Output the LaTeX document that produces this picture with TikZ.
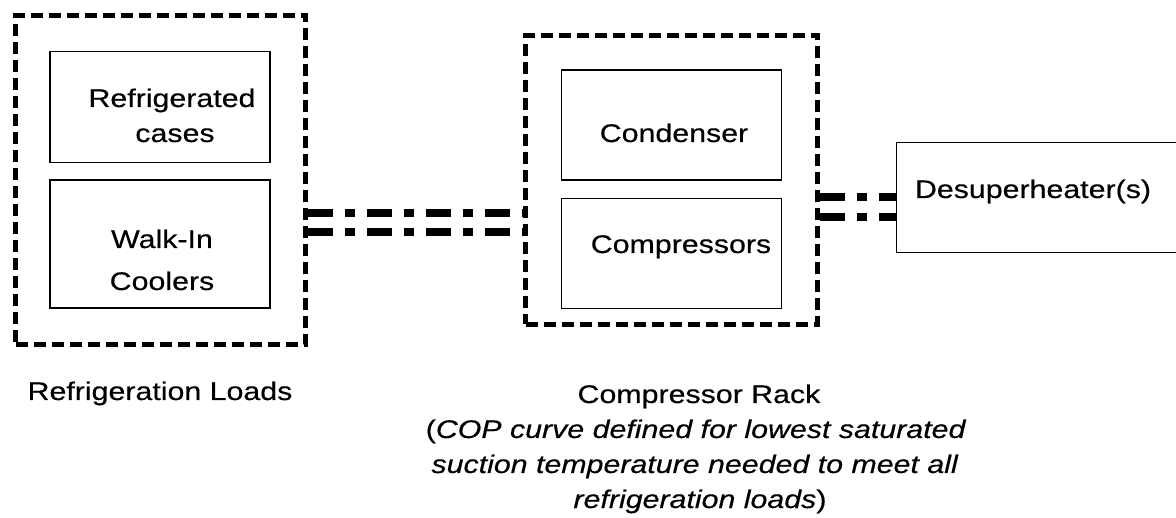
\documentclass[tikz,border=0pt]{standalone}
\usepackage{fontspec}
\setmainfont{Liberation Sans}[FakeStretch=1.19,FakeBold=0.4]
\begin{document}
\begin{tikzpicture}[x=1pt,y=-1pt,
  outerbox/.style={draw=black,line width=4.5pt,dash pattern=on 12pt off 6pt,minimum width=#1,inner sep=0pt},
  innerbox/.style={draw=black,line width=1.5pt,minimum width=220pt,inner sep=0pt},
  lbl/.style={anchor=base,inner sep=0pt,font=\fontsize{25.5}{35}\selectfont},
  link/.style={line width=8pt,dash pattern=on 25pt off 12pt on 10pt off 12pt}]
\useasboundingbox (0,0) rectangle (1176,518);
\clip (0,0) rectangle (1176,518);
% outer dashed groups
\node[outerbox=290pt,minimum height=329pt] (L) at (160.5,180) {};
\node[outerbox=292pt,minimum height=289pt] (M) at (671.5,180) {};
% inner boxes
\node[innerbox,minimum height=110.6pt] (RC) at (160,107) {};
\node[innerbox,minimum height=128pt] (WI) at (160,244) {};
\node[innerbox,minimum height=110pt] (CD) at (671.7,125) {};
\node[innerbox,minimum height=110pt] (CP) at (671.7,253.3) {};
\node[draw=black,line width=1.5pt,minimum width=290pt,minimum height=110pt,inner sep=0pt] (D) at (1041.7,197.5) {};
% texts
\node[lbl] (t1) at (172,107) {Refrigerated};
\node[lbl] (t2) at (175,142) {cases};
\node[lbl] (t3) at (162,248) {Walk-In};
\node[lbl] (t4) at (162,290) {Coolers};
\node[lbl] (t5) at (674,142) {Condenser};
\node[lbl] (t6) at (681,253) {Compressors};
\node[lbl] (t7) at (1033,198) {Desuperheater(s)};
\node[lbl] (t8) at (160,400) {Refrigeration Loads};
\node[lbl] (cr1) at (699,403) {Compressor Rack};
\node[lbl] (cr2) at (696,438) {(\textit{COP curve defined for lowest saturated}};
\node[lbl] (cr3) at (695,473) {\textit{suction temperature needed to meet all}};
\node[lbl] (cr4) at (700,508) {\textit{refrigeration loads})};
% connectors
\draw[link] ([yshift=-33pt]L.east) -- ([yshift=-33pt]M.west);
\draw[link] ([yshift=-52.5pt]L.east) -- ([yshift=-52.5pt]M.west);
\draw[link] ([yshift=-17.5pt]M.east) -- (D.west);
\draw[link] ([yshift=-37.5pt]M.east) -- ([yshift=-20pt]D.west);
\end{tikzpicture}
\end{document}
